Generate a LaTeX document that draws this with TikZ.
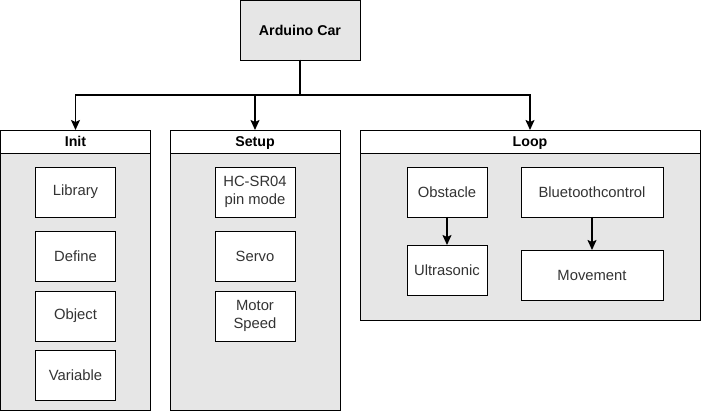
\documentclass[tikz,border=0pt]{standalone}
\usepackage{fontspec}
\setmainfont{Liberation Sans}
\usetikzlibrary{arrows.meta, positioning}
\definecolor{boxgray}{HTML}{E6E6E6}
\definecolor{txtgray}{HTML}{333333}

\begin{document}
\begin{tikzpicture}[x=1pt, y=-1pt, node distance=14pt,
  every node/.style={inner sep=0pt, outer sep=0pt, align=center},
  body/.style={draw, line width=0.9pt, fill=boxgray, anchor=north west},
  head/.style={draw, line width=0.9pt, fill=white, anchor=north west, minimum height=23pt, text height=10.2pt, text depth=0pt, font=\fontsize{14.2}{16}\selectfont\bfseries},
  item/.style={draw, line width=0.9pt, fill=white, minimum width=80pt, minimum height=50pt, text=txtgray, font=\fontsize{14.8}{18}\selectfont},
  conn/.style={-{Stealth[length=10pt, width=9pt, inset=2pt]}, line width=1.6pt}]
  \useasboundingbox (0,0) rectangle (701,411);

  % top node
  \node (car) [draw, line width=0.9pt, fill=boxgray, anchor=north, minimum width=120pt, minimum height=59.5pt, font=\fontsize{14.2}{16}\selectfont\bfseries] at (300,0.5) {Arduino Car};

  % Init
  \node (init) [body, minimum width=150pt, minimum height=280pt] at (0.5,130) {};
  \node (inith) [head, minimum width=150pt] at (0.5,130) {Init};
  \node (lib) [item, below=14pt of inith] {Library};
  \node (def) [item, below=of lib] {Define};
  \node (obj) [item, below=10pt of def] {Object};
  \node (var) [item, below=9pt of obj] {Variable};

  % Setup
  \node (setup) [body, minimum width=170pt, minimum height=280pt] at (170,130) {};
  \node (setuph) [head, minimum width=170pt] at (170,130) {Setup};
  \node (pin) [item, below=14pt of setuph] {HC-SR04\\pin mode};
  \node (servo) [item, below=of pin] {Servo};
  \node (motor) [item, below=10pt of servo] {Motor\\Speed};

  % Loop
  \node (loop) [body, minimum width=340pt, minimum height=190pt] at (360,130) {};
  \node (looph) [head, minimum width=340pt] at (360,130) {Loop};
  \node (obst) [item] at (447,192) {Obstacle};
  \node (ultra) [item, below=28pt of obst] {Ultrasonic};
  \node (bt) [item, minimum width=142pt] at (592,192) {Bluetoothcontrol};
  \node (move) [item, minimum width=142pt, below=33pt of bt] {Movement};

  % connectors
  \coordinate (bus) at (300,95);
  \draw[conn] (car.south) -- (bus) -| (inith.north);
  \draw[conn] (car.south) -- (bus) -| (setuph.north);
  \draw[conn] (car.south) -- (bus) -| (looph.north);
  \draw[conn] (obst) -- (ultra);
  \draw[conn] (bt) -- (move);
\end{tikzpicture}
\end{document}
